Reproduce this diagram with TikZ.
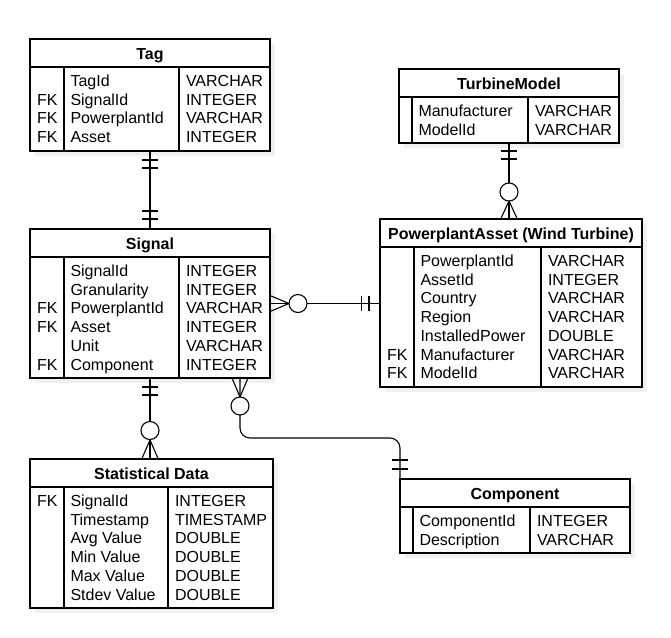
\documentclass[tikz,border=0pt]{standalone}
\usepackage{fontspec}
\setmainfont{Liberation Sans}
\usetikzlibrary{calc}
\tikzset{
  every node/.style={inner sep=0pt, outer sep=0pt, font=\fontsize{16}{18.7}\selectfont},
  entbox/.style={draw, line width=1.1pt, fill=white, rectangle, anchor=north west},
  hdrtext/.style={anchor=base, font=\fontsize{16}{18.7}\selectfont\bfseries},
  rowtext/.style={anchor=base west},
  erline/.style={line width=1.1pt},
  shadowbox/.style={fill=black!6},
}
\newcommand\ent[9]{%
  \fill[shadowbox] (#2+5,#3+5) rectangle (#4+5,#5+5);
  \node[entbox, minimum width={#4-#2}, minimum height={#5-#3}] (#1) at (#2,#3) {};
  \node[hdrtext] (#1-title) at ({(#2+#4)/2},#3+20) {#6};
  \draw[erline] (#2,#3+28) -- (#4,#3+28) (#7,#3+28) -- (#7,#5) (#8,#3+28) -- (#8,#5);
  \foreach[count=\i] \fk/\nm/\ty in {#9}{
    \node[rowtext] (#1-k\i) at (#2+7,#3+47.5+18.7*\i-18.7) {\fk};
    \node[rowtext] (#1-n\i) at (#7+6.5,#3+47.5+18.7*\i-18.7) {\nm};
    \node[rowtext] (#1-y\i) at (#8+7,#3+47.5+18.7*\i-18.7) {\ty};
  }
}
\newcommand\erbar[3]{\draw[erline] ($(#1)+(#2)+(#3)$) -- ($(#1)+(#2)-(#3)$);}
\newcommand\zm[4]{%
  \draw[erline] ($(#1)+(#3)$) -- ($(#1)+(#2)$) -- ($(#1)-(#3)$);
  \draw[erline, fill=white] ($(#1)+(#4)$) circle[radius=9];
}
\begin{document}
\begin{tikzpicture}[x=1pt, y=-1pt]
\fill[white] (0,0) rectangle (671,637);
\useasboundingbox (0,0) rectangle (671,637);

\ent{tag}{30}{39}{270}{151}{Tag}{64}{179}{
  {}/TagId/VARCHAR, FK/SignalId/INTEGER, FK/PowerplantId/VARCHAR, FK/Asset/INTEGER}
\ent{tm}{399}{69}{619}{143}{TurbineModel}{412}{528}{
  {}/Manufacturer/VARCHAR, {}/ModelId/VARCHAR}
\ent{signal}{30}{229}{270}{378}{Signal}{64}{179}{
  {}/SignalId/INTEGER, {}/Granularity/INTEGER, FK/PowerplantId/VARCHAR,
  FK/Asset/INTEGER, {}/Unit/VARCHAR, FK/Component/INTEGER}
\ent{pa}{380}{219}{642}{387}{PowerplantAsset (Wind Turbine)}{414}{541}{
  {}/PowerplantId/VARCHAR, {}/AssetId/INTEGER, {}/Country/VARCHAR,
  {}/Region/VARCHAR, {}/InstalledPower/DOUBLE, FK/Manufacturer/VARCHAR, FK/ModelId/VARCHAR}
\ent{stat}{30}{459}{273}{608}{Statistical Data}{64}{168}{
  FK/SignalId/INTEGER, {}/Timestamp/TIMESTAMP, {}/Avg Value/DOUBLE,
  {}/Min Value/DOUBLE, {}/Max Value/DOUBLE, {}/Stdev Value/DOUBLE}
\ent{comp}{400}{479}{630}{553}{Component}{413}{530}{
  {}/ComponentId/INTEGER, {}/Description/VARCHAR}

% Tag -- Signal (one to one)
\draw[erline] (tag.south) -- (signal.north);
\erbar{tag.south}{0,9}{8,0}
\erbar{tag.south}{0,17}{8,0}
\erbar{signal.north}{0,-10}{8,0}
\erbar{signal.north}{0,-18}{8,0}

% TurbineModel -- PowerplantAsset
\coordinate (papt) at (tm.south |- pa.north);
\draw[erline] (tm.south) -- (papt);
\erbar{tm.south}{0,8}{8,0}
\erbar{tm.south}{0,16}{8,0}
\zm{papt}{0,-18}{8.3,0}{0,-27}

% Signal -- PowerplantAsset
\coordinate (pal) at (signal.east -| pa.west);
\draw[erline] (signal.east) -- (pal);
\zm{signal.east}{19,0}{0,8}{28,0}
\erbar{pal}{-11,0}{0,7.5}
\erbar{pal}{-18.5,0}{0,7.5}

% Signal -- Statistical Data
\coordinate (stt) at (signal.south |- stat.north);
\draw[erline] (signal.south) -- (stt);
\erbar{signal.south}{0,9}{8,0}
\erbar{signal.south}{0,17}{8,0}
\zm{stt}{0,-19}{8.3,0}{0,-28.5}

% Signal -- Component
\coordinate (sc) at ($(signal.south east)+(-30,0)$);
\draw[erline, rounded corners=10] (sc) |- ($(comp.north west)+(0,-41)$) -- (comp.north west);
\zm{sc}{0,19}{8,0}{0,28}
\erbar{comp.north west}{0,-19}{8,0}
\erbar{comp.north west}{0,-10}{8,0}
\end{tikzpicture}
\end{document}
